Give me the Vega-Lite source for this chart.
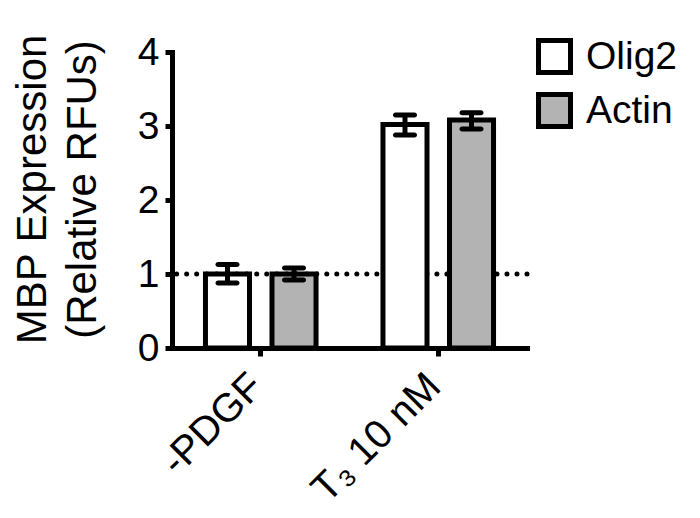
{
  "$schema": "https://vega.github.io/schema/vega-lite/v6.json",
  "autosize": "none",
  "width": 355,
  "height": 296,
  "padding": {"left": 172, "top": 52, "right": 173, "bottom": 170},
  "background": "white",
  "config": {
    "view": {"stroke": null},
    "font": "Liberation Sans",
    "axis": {"labelFont": "Liberation Sans", "titleFont": "Liberation Sans", "labelColor": "black", "titleColor": "black", "domainColor": "black", "tickColor": "black", "domainWidth": 5, "tickWidth": 5, "grid": false, "domainCap": "square", "labelLimit": 400},
    "legend": {"labelFont": "Liberation Sans", "labelColor": "black", "labelLimit": 300}
  },
  "data": {
    "values": [
      {"group": "-PDGF", "target": "Olig2", "mean": 1.0, "lo": 0.88, "hi": 1.13},
      {"group": "-PDGF", "target": "Actin", "mean": 1.0, "lo": 0.92, "hi": 1.08},
      {"group": "T₃ 10 nM", "target": "Olig2", "mean": 3.02, "lo": 2.88, "hi": 3.15},
      {"group": "T₃ 10 nM", "target": "Actin", "mean": 3.08, "lo": 2.96, "hi": 3.18}
    ]
  },
  "encoding": {
    "x": {"field": "group", "type": "nominal", "sort": ["-PDGF", "T₃ 10 nM"],
      "scale": {"paddingInner": 0, "paddingOuter": 0},
      "axis": {"title": null, "labelAngle": -45, "labelAlign": "right", "labelBaseline": "middle", "labelFontSize": 40, "tickSize": 8, "labelPadding": 24, "labelOffset": -4, "labelLimit": 400}},
    "xOffset": {"field": "target", "type": "nominal", "sort": ["Olig2", "Actin"],
      "scale": {"paddingInner": 0.338, "paddingOuter": 0.503}}
  },
  "layer": [
    {
      "data": {"values": [{"ref": 1}]},
      "mark": {"type": "rule", "strokeWidth": 5, "strokeDash": [0.01, 10], "strokeCap": "round", "color": "black"},
      "encoding": {"x": null, "xOffset": null, "y": {"field": "ref", "type": "quantitative"}}
    },
    {
      "mark": {"type": "bar", "stroke": "black", "strokeWidth": 5},
      "encoding": {
        "y": {"field": "mean", "type": "quantitative", "scale": {"domain": [0, 4]},
          "axis": {"values": [0, 1, 2, 3, 4], "format": "d", "labelFontSize": 39, "tickSize": 7, "labelPadding": 6,
            "title": ["MBP Expression", "(Relative RFUs)"], "titleFontSize": 42, "titleFontWeight": "normal", "titleLineHeight": 50, "titlePadding": 33, "titleY": 137}},
        "fill": {"field": "target", "type": "nominal", "scale": {"domain": ["Olig2", "Actin"], "range": ["white", "#b3b3b3"]},
          "legend": {"title": null, "orient": "none", "legendX": 363, "legendY": -15, "symbolType": "square", "symbolSize": 1024, "symbolStrokeWidth": 5, "symbolStrokeColor": "black", "symbolOpacity": 1, "labelFontSize": 39, "labelOffset": 12, "rowPadding": 1, "padding": 0}}
      }
    },
    {
      "mark": {"type": "rule", "strokeWidth": 5, "color": "black"},
      "encoding": {"y": {"field": "lo", "type": "quantitative"}, "y2": {"field": "hi"}}
    },
    {
      "mark": {"type": "tick", "thickness": 5, "size": 24, "color": "black", "opacity": 1, "cornerRadius": 2.5},
      "encoding": {"y": {"field": "hi", "type": "quantitative"}}
    },
    {
      "mark": {"type": "tick", "thickness": 5, "size": 24, "color": "black", "opacity": 1, "cornerRadius": 2.5},
      "encoding": {"y": {"field": "lo", "type": "quantitative"}}
    }
  ]
}
